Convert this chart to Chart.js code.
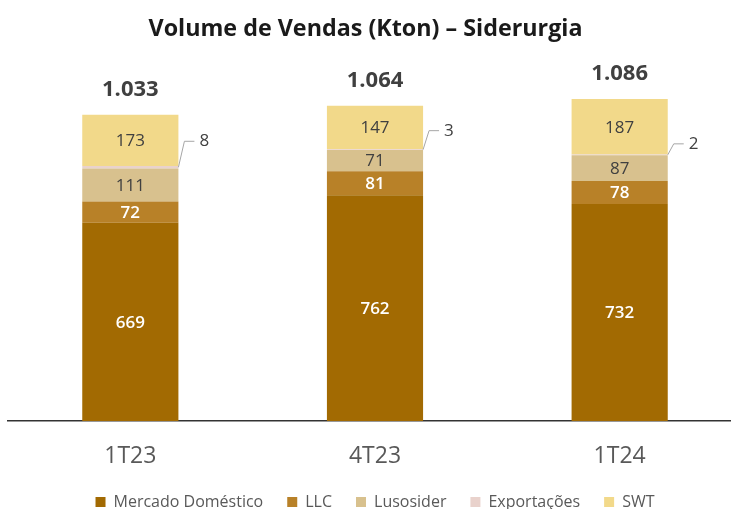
<!DOCTYPE html>
<html><head><meta charset="utf-8">
<script src="https://cdn.jsdelivr.net/npm/chart.js@4"></script>
<style>
html,body{margin:0;padding:0;background:#fff;overflow:hidden;width:731px;height:509px;}
#wrap{position:absolute;left:0;top:0;width:742px;height:509px;}
#title{position:absolute;left:0;width:731px;top:11px;text-align:center;font:bold 23.3px "Open Sans";color:#1a1a1a;line-height:32px;}
</style></head><body>
<div id="wrap"><canvas id="c" width="742" height="509"></canvas></div>
<div id="title">Volume de Vendas (Kton) – Siderurgia</div>
<script>
const categories = ['1T23', '4T23', '1T24'];
const mercadoDomestico = [669, 762, 732];
const llc = [72, 81, 78];
const lusosider = [111, 71, 87];
const exportacoes = [8, 3, 2];
const swt = [173, 147, 187];
const totals = [1033, 1064, 1086];

const seriesNames = ['Mercado Doméstico', 'LLC', 'Lusosider', 'Exportações', 'SWT'];
const seriesValues = [mercadoDomestico, llc, lusosider, exportacoes, swt];
const seriesColors = ['#A26A02', '#B88128', '#D8C18E', '#E9D2CC', '#F2D98A'];
const labelColors = ['#ffffff', '#ffffff', '#404040', '#404040', '#404040'];
const leaderRise = [26, 19, 11];

function fmt(v) {
  return String(v).replace(/\B(?=(\d{3})+(?!\d))/g, '.');
}

const labelPlugin = {
  id: 'labels',
  afterDatasetsDraw(chart) {
    const ctx = chart.ctx;
    ctx.save();
    ctx.textAlign = 'center';
    ctx.textBaseline = 'middle';
    chart.data.datasets.forEach((ds, di) => {
      const meta = chart.getDatasetMeta(di);
      meta.data.forEach((el, i) => {
        const v = ds.data[i];
        const midY = (el.y + el.base) / 2;
        if (di === 3) {
          const x0 = el.x + el.width / 2;
          const y1 = midY - leaderRise[i];
          ctx.strokeStyle = '#A6A6A6';
          ctx.lineWidth = 1;
          ctx.beginPath();
          ctx.moveTo(x0, midY);
          ctx.lineTo(x0 + 6, y1);
          ctx.lineTo(x0 + 16, y1);
          ctx.stroke();
          ctx.fillStyle = '#404040';
          ctx.font = '17px "Open Sans"';
          ctx.textAlign = 'left';
          ctx.fillText(String(v), x0 + 21, y1);
          ctx.textAlign = 'center';
        } else {
          ctx.fillStyle = labelColors[di];
          ctx.font = (di < 2 ? '600 ' : '') + '17px "Open Sans"';
          ctx.fillText(String(v), el.x, midY + 1);
        }
      });
    });
    const topMeta = chart.getDatasetMeta(chart.data.datasets.length - 1);
    ctx.fillStyle = '#404040';
    ctx.font = 'bold 22px "Open Sans"';
    topMeta.data.forEach((el, i) => {
      ctx.fillText(fmt(totals[i]), el.x, el.y - 25);
    });
    ctx.restore();
  }
};

new Chart(document.getElementById('c'), {
  type: 'bar',
  data: {
    labels: categories,
    datasets: seriesNames.map((n, i) => ({
      label: n,
      data: seriesValues[i],
      backgroundColor: seriesColors[i],
      borderWidth: 0,
      barPercentage: 1,
      categoryPercentage: 0.393
    }))
  },
  options: {
    responsive: false,
    devicePixelRatio: 1,
    animation: false,
    layout: { padding: { top: 60, left: 8, right: 0, bottom: -11 } },
    plugins: {
      title: { display: false },
      tooltip: { enabled: false },
      legend: {
        position: 'bottom',
        labels: {
          boxWidth: 10, boxHeight: 10, padding: 24,
          color: '#595959',
          font: { family: 'Open Sans', size: 16 }
        }
      }
    },
    scales: {
      x: {
        stacked: true,
        grid: { display: false },
        border: { display: true, color: '#333333', width: 1.5 },
        ticks: { color: '#595959', font: { family: 'Open Sans', size: 23 }, padding: 14 },
        afterFit: (axis) => { axis.height = 49; }
      },
      y: {
        stacked: true,
        display: false,
        min: 0,
        max: 1218
      }
    }
  },
  plugins: [labelPlugin]
});
</script>
</body></html>
